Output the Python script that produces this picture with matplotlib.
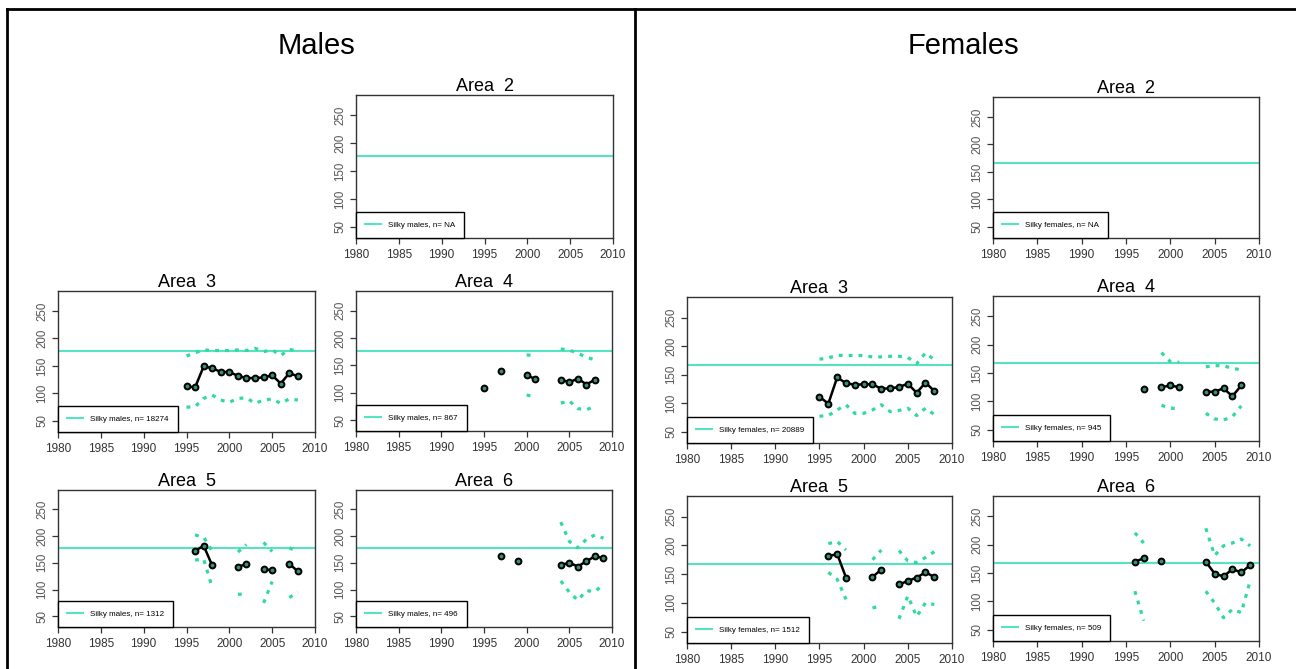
import numpy as np
import matplotlib.pyplot as plt

plt.rcParams['font.family'] = ['Liberation Sans', 'DejaVu Sans']

nan = np.nan
years = [1995, 1996, 1997, 1998, 1999, 2000, 2001, 2002, 2003, 2004, 2005, 2006, 2007, 2008, 2009]

males_ref = 177
females_ref = 167
males_n = ['NA', '18274', '867', '1312', '496']
females_n = ['NA', '20889', '945', '1512', '509']

# males, areas 3-6 (area 2 has no data)
m3_mean = [113, 111, 149, 146, 139, 139, 132, 128, 128, 129, 133, 118, 137, 131, nan]
m3_upper = [168, 174, 179, 178, 178, 178, 179, 178, 182, 176, 179, 169, 180, 177, nan]
m3_lower = [75, 76, 91, 97, 88, 84, 91, 92, 82, 88, 90, 82, 90, 88, nan]

m4_mean = [109, nan, 139, nan, nan, 132, 125, nan, nan, 124, 119, 126, 115, 124, nan]
m4_upper = [nan, nan, nan, nan, nan, 169, 168, nan, nan, 180, 178, 172, 165, 160, nan]
m4_lower = [nan, nan, nan, nan, nan, 96, 92, nan, nan, 81, 85, 71, 69, 75, nan]

m5_mean = [nan, 172, 182, 145, nan, nan, 142, 148, nan, 138, 136, nan, 148, 134, nan]
m5_upper = [nan, 202, 198, 172, nan, nan, 170, 184, nan, 188, 171, nan, 178, 170, nan]
m5_lower = [nan, 155, 157, 104, nan, nan, 91, 92, nan, 75, 115, nan, 85, 95, nan]

m6_mean = [nan, nan, 163, nan, 153, nan, nan, nan, nan, 146, 150, 143, 153, 162, 159]
m6_upper = [nan, nan, nan, nan, nan, nan, nan, nan, nan, 226, 190, 178, 194, 202, 196]
m6_lower = [nan, nan, nan, nan, nan, nan, nan, nan, nan, 116, 95, 80, 98, 96, 110]

# females, areas 3-6
f3_mean = [111, 99, 145, 135, 132, 133, 133, 125, 126, 128, 134, 118, 136, 121, nan]
f3_upper = [177, 179, 184, 183, 184, 183, 181, 181, 182, 182, 180, 169, 188, 176, nan]
f3_lower = [77, 78, 88, 97, 82, 82, 88, 97, 85, 87, 91, 78, 91, 80, nan]

f4_mean = [nan, nan, 121, nan, 125, 128, 125, nan, nan, 117, 117, 123, 109, 128, nan]
f4_upper = [nan, nan, nan, nan, 186, 170, 169, nan, nan, 161, 163, 163, 158, 156, nan]
f4_lower = [nan, nan, nan, nan, 93, 88, 87, nan, nan, 79, 69, 67, 73, 92, nan]

f5_mean = [nan, 181, 185, 144, nan, nan, 145, 158, nan, 132, 138, 144, 153, 145, nan]
f5_upper = [nan, 203, 207, 192, nan, nan, 175, 192, nan, 191, 173, 170, 179, 189, nan]
f5_lower = [nan, 153, 141, 106, nan, nan, 91, 95, nan, 72, 112, 76, 100, 97, nan]

f6_mean = [nan, 170, 176, nan, 172, nan, nan, nan, nan, 170, 149, 144, 157, 151, 164]
f6_upper = [nan, 221, 203, nan, nan, nan, nan, nan, nan, 229, 181, 198, 203, 210, 198]
f6_lower = [nan, 118, 66, nan, nan, nan, nan, nan, nan, 118, 97, 71, 86, 80, 136]

W, H = 1296, 669
REF_COLOR = '#55E3C4'
CI_COLOR = '#30DA9C'

fig = plt.figure(figsize=(W / 100, H / 100), dpi=100)


def rect(left, top, right, bottom):
    return [left / W, 1 - bottom / H, (right - left) / W, (bottom - top) / H]


def area_plot(box, title, ref, label, mean=None, upper=None, lower=None):
    ax = fig.add_axes(rect(*box))
    ax.axhline(ref, color=REF_COLOR, lw=1.5, label=label, zorder=1)
    if mean is not None:
        ax.plot(years, upper, color=CI_COLOR, lw=2.3, linestyle=(0, (1.2, 1.9)), zorder=2)
        ax.plot(years, lower, color=CI_COLOR, lw=2.3, linestyle=(0, (1.2, 1.9)), zorder=2)
        ax.plot(years, mean, color='black', lw=1.8, marker='o', markersize=4.2,
                markerfacecolor='#3A8F70', markeredgecolor='black', markeredgewidth=1.4, zorder=3)
    ax.set_xlim(1980, 2010)
    ax.set_ylim(30, 286)
    ax.set_xticks(range(1980, 2011, 5))
    ax.set_yticks(range(50, 251, 50))
    ax.tick_params(axis='x', labelsize=8.5, labelcolor='#333333', length=4, width=0.9, color='#333333', pad=4)
    ax.tick_params(axis='y', labelsize=8.3, labelcolor='#555555', length=4, width=0.9, color='#333333', pad=3)
    for t in ax.get_yticklabels():
        t.set_rotation(90)
        t.set_va('center')
    for s in ax.spines.values():
        s.set_color('#333333')
        s.set_linewidth(1.0)
    ax.set_title(title, fontsize=13, pad=3)
    leg = ax.legend(loc='lower left', borderaxespad=0, fontsize=5.8, fancybox=False,
                    edgecolor='black', framealpha=1, borderpad=1.15, handlelength=2.0,
                    handletextpad=0.8)
    leg.get_frame().set_linewidth(1.0)
    return ax


# Males
area_plot((356, 95, 613, 238), 'Area  2', males_ref, 'Silky males, n= ' + males_n[0])
area_plot((58, 291, 315, 432), 'Area  3', males_ref, 'Silky males, n= ' + males_n[1], m3_mean, m3_upper, m3_lower)
area_plot((356, 291, 612, 431), 'Area  4', males_ref, 'Silky males, n= ' + males_n[2], m4_mean, m4_upper, m4_lower)
area_plot((58, 490, 315, 627), 'Area  5', males_ref, 'Silky males, n= ' + males_n[3], m5_mean, m5_upper, m5_lower)
area_plot((356, 490, 612, 627), 'Area  6', males_ref, 'Silky males, n= ' + males_n[4], m6_mean, m6_upper, m6_lower)

# Females
area_plot((993, 97, 1259, 238), 'Area  2', females_ref, 'Silky females, n= ' + females_n[0])
area_plot((687, 297, 952, 443), 'Area  3', females_ref, 'Silky females, n= ' + females_n[1], f3_mean, f3_upper, f3_lower)
area_plot((993, 296, 1259, 441), 'Area  4', females_ref, 'Silky females, n= ' + females_n[2], f4_mean, f4_upper, f4_lower)
area_plot((687, 496, 952, 643), 'Area  5', females_ref, 'Silky females, n= ' + females_n[3], f5_mean, f5_upper, f5_lower)
area_plot((993, 496, 1259, 641), 'Area  6', females_ref, 'Silky females, n= ' + females_n[4], f6_mean, f6_upper, f6_lower)

fig.text(316 / W, 1 - 46 / H, 'Males', fontsize=21, ha='center', va='center')
fig.text(963 / W, 1 - 46 / H, 'Females', fontsize=21, ha='center', va='center')

# outer frame
fig.add_artist(plt.Line2D([7 / W, 1], [1 - 9 / H, 1 - 9 / H], color='black', lw=2, transform=fig.transFigure))
fig.add_artist(plt.Line2D([7 / W, 7 / W], [0, 1 - 9 / H], color='black', lw=2, transform=fig.transFigure))
fig.add_artist(plt.Line2D([635 / W, 635 / W], [0, 1 - 9 / H], color='black', lw=2, transform=fig.transFigure))

fig.savefig('out.png', dpi=100, facecolor='white')
